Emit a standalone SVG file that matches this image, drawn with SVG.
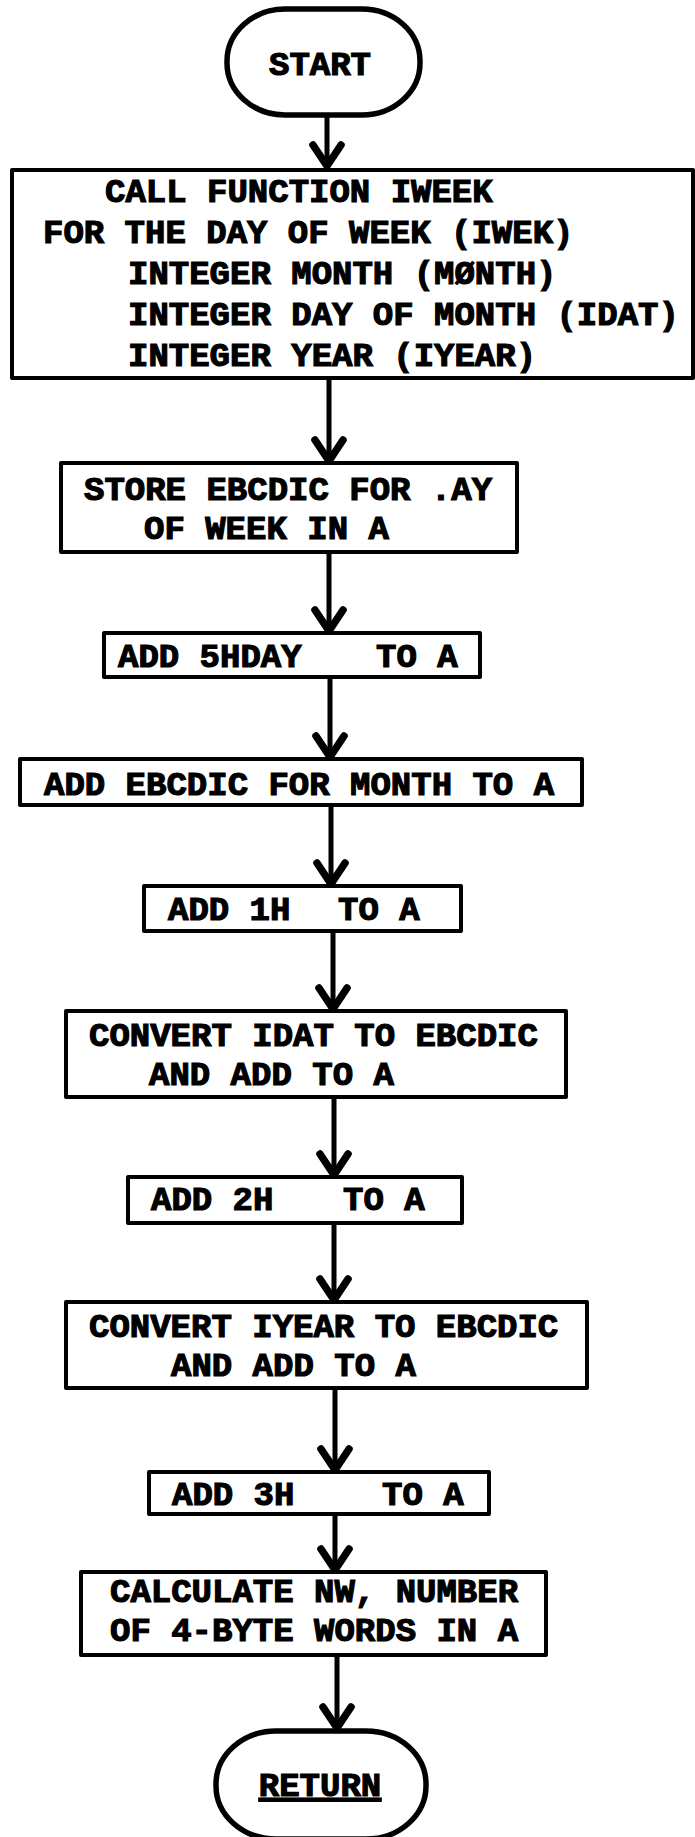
<svg xmlns="http://www.w3.org/2000/svg" width="695" height="1837" viewBox="0 0 695 1837">
<style>
.bg{fill:#ffffff}
.box{fill:#ffffff;stroke:#000;stroke-width:4;stroke-linejoin:round}
.term{fill:#ffffff;stroke:#000;stroke-width:5.5}
.t{font-family:"Liberation Mono","Courier New",monospace;font-weight:bold;font-size:34px;fill:#000;stroke:#000;stroke-width:1.2}
.c{text-anchor:middle}
.edge{stroke:#000;stroke-width:5;fill:none;stroke-linecap:round;marker-end:url(#ah)}
</style>
<defs>
<marker id="ah" markerUnits="userSpaceOnUse" viewBox="-26 -20 30 40" refX="0" refY="0" markerWidth="30" markerHeight="40" orient="auto" overflow="visible">
<path d="M -21 -14 L 0 0 L -21 14" fill="none" stroke="#000" stroke-width="7.5" stroke-linecap="round" stroke-linejoin="round"/>
</marker>
</defs>
<rect class="bg" x="0" y="0" width="695" height="1837"/>

<g id="edges">
<line class="edge" x1="327" y1="116" x2="327" y2="166"/>
<line class="edge" x1="329" y1="380" x2="329" y2="461"/>
<line class="edge" x1="329" y1="553" x2="329" y2="631"/>
<line class="edge" x1="330" y1="677" x2="330" y2="757"/>
<line class="edge" x1="331" y1="806" x2="331" y2="884"/>
<line class="edge" x1="333" y1="932" x2="333" y2="1009"/>
<line class="edge" x1="334" y1="1098" x2="334" y2="1175"/>
<line class="edge" x1="334" y1="1224" x2="334" y2="1300"/>
<line class="edge" x1="335" y1="1388" x2="335" y2="1470"/>
<line class="edge" x1="335" y1="1515" x2="335" y2="1570"/>
<line class="edge" x1="337" y1="1656" x2="337" y2="1728"/>
</g>

<g id="start">
<rect class="term" x="227" y="9" width="193" height="106" rx="58" ry="52"/>
<text class="t c" x="320" y="75">START</text>
</g>

<g id="n1">
<rect class="box" x="12" y="170" width="681" height="208"/>
<text class="t" x="105" y="202">CALL FUNCTION IWEEK</text>
<text class="t" x="43" y="243">FOR THE DAY OF WEEK (IWEK)</text>
<text class="t" x="128" y="284">INTEGER MONTH (MØNTH)</text>
<text class="t" x="128" y="325">INTEGER DAY OF MONTH (IDAT)</text>
<text class="t" x="128" y="366">INTEGER YEAR (IYEAR)</text>
</g>

<g id="n2">
<rect class="box" x="61" y="463" width="456" height="89"/>
<text class="t" x="84" y="500">STORE EBCDIC FOR .AY</text>
<text class="t" x="144" y="539">OF WEEK IN A</text>
</g>

<g id="n3">
<rect class="box" x="104" y="633" width="376" height="44"/>
<text class="t" x="118" y="667">ADD 5HDAY</text>
<text class="t" x="376" y="667">TO A</text>
</g>

<g id="n4">
<rect class="box" x="20" y="759" width="562" height="46"/>
<text class="t" x="44" y="795">ADD EBCDIC FOR MONTH TO A</text>
</g>

<g id="n5">
<rect class="box" x="144" y="886" width="317" height="45"/>
<text class="t" x="168" y="920">ADD 1H</text>
<text class="t" x="338" y="920">TO A</text>
</g>

<g id="n6">
<rect class="box" x="66" y="1011" width="500" height="86"/>
<text class="t" x="89" y="1046">CONVERT IDAT TO EBCDIC</text>
<text class="t" x="149" y="1085">AND ADD TO A</text>
</g>

<g id="n7">
<rect class="box" x="128" y="1177" width="334" height="46"/>
<text class="t" x="151" y="1210">ADD 2H</text>
<text class="t" x="343" y="1210">TO A</text>
</g>

<g id="n8">
<rect class="box" x="66" y="1302" width="521" height="86"/>
<text class="t" x="89" y="1337">CONVERT IYEAR TO EBCDIC</text>
<text class="t" x="171" y="1376">AND ADD TO A</text>
</g>

<g id="n9">
<rect class="box" x="149" y="1472" width="340" height="42"/>
<text class="t" x="172" y="1505">ADD 3H</text>
<text class="t" x="382" y="1505">TO A</text>
</g>

<g id="n10">
<rect class="box" x="81" y="1572" width="465" height="83"/>
<text class="t" x="110" y="1602">CALCULATE NW, NUMBER</text>
<text class="t" x="110" y="1641">OF 4-BYTE WORDS IN A</text>
</g>

<g id="return">
<rect class="term" x="216" y="1731" width="210" height="108" rx="60" ry="53"/>
<text class="t c" x="320" y="1796" text-decoration="underline">RETURN</text>
</g>
</svg>
